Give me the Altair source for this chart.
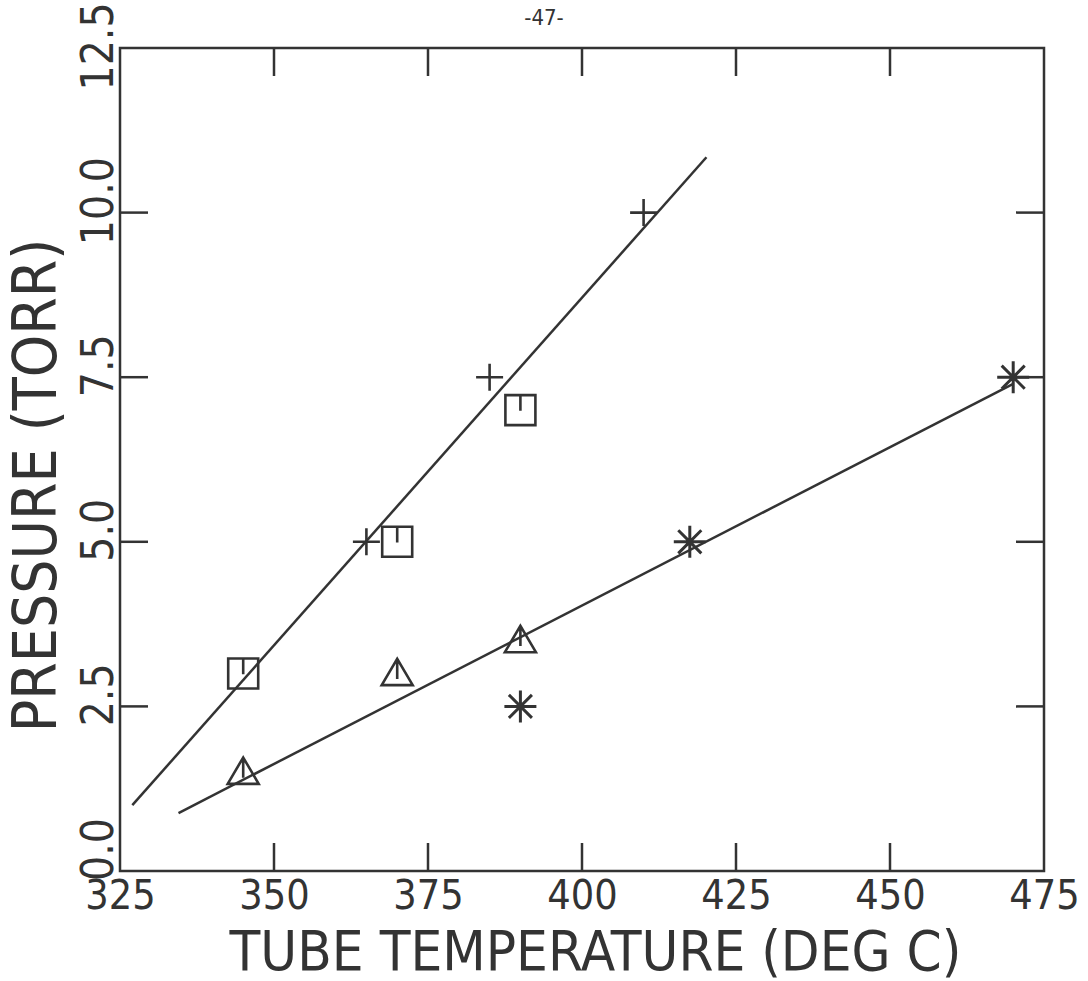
import altair as alt
import pandas as pd

# Measured points, one list pair per marker symbol
plus_temp = [365, 385, 410]
plus_pres = [5.0, 7.5, 10.0]
square_temp = [345, 370, 390]
square_pres = [3.0, 5.0, 7.0]
triangle_temp = [345, 370, 390]
triangle_pres = [1.5, 3.0, 3.5]
star_temp = [390, 417.5, 470]
star_pres = [2.5, 5.0, 7.5]

# Straight-line fits (end points)
steep_fit_temp = [327.0, 420.2]
steep_fit_pres = [1.0, 10.84]
shallow_fit_temp = [334.5, 470.0]
shallow_fit_pres = [0.88, 7.4]

# Axis tick values
x_ticks = [325, 350, 375, 400, 425, 450, 475]
y_ticks = [0.0, 2.5, 5.0, 7.5, 10.0, 12.5]

W, H = 924, 823
TICK = 28
INK = "#333333"
FONT = "Liberation Sans Narrow, DejaVu Sans Condensed, Liberation Sans, sans-serif"

x_scale = alt.Scale(domain=[325, 475], nice=False, zero=False)
y_scale = alt.Scale(domain=[0, 12.5], nice=False, zero=True)

x_axis = alt.Axis(
    values=x_ticks, format="d", domain=False, ticks=False, grid=False,
    labelFont=FONT, labelFontSize=41, labelColor=INK, labelPadding=5,
    labelFlush=False, labelOverlap=False, labelBaseline="top",
    title="TUBE TEMPERATURE (DEG C)", titleFont=FONT, titleFontSize=56,
    titleFontWeight="normal", titleColor=INK, titleX=475, titleY=98,
    titleAlign="center", titleBaseline="alphabetic",
)
y_axis = alt.Axis(
    values=y_ticks, format=".1f", domain=False, ticks=False, grid=False,
    labelFont=FONT, labelFontSize=44, labelColor=INK, labelPadding=8,
    labelFlush=False, labelOverlap=False, labelAngle=270,
    labelAlign="center", labelBaseline="alphabetic",
    labelOffset={"condition": [
        {"test": "datum.value == 0", "value": -22},
        {"test": "datum.value == 12.5", "value": -2},
    ], "value": -12},
    title="PRESSURE (TORR)", titleFont=FONT, titleFontSize=60,
    titleFontWeight="normal", titleColor=INK, titleAngle=270,
    titleX=-65, titleY=437, titleAlign="center", titleBaseline="alphabetic",
)

X = alt.X("temp:Q", scale=x_scale, axis=x_axis)
Y = alt.Y("pres:Q", scale=y_scale, axis=y_axis)

fits = pd.DataFrame({
    "temp": steep_fit_temp + shallow_fit_temp,
    "pres": steep_fit_pres + shallow_fit_pres,
    "fit": ["steep"] * 2 + ["shallow"] * 2,
})
fit_lines = alt.Chart(fits).mark_line(color=INK, strokeWidth=2.5).encode(
    x=X, y=Y, detail="fit:N"
)

PLUS = "M-1,0L1,0M0,-1L0,1"
SQUARE = "M-1,-1L1,-1L1,1L-1,1Z M0,-1L0,0.05"
TRIANGLE = "M-1,0.75L0,-0.95L1,0.75Z M0,-0.95L0,0.35"
STAR = "M-1,0L1,0M0,-1L0,1M-0.72,-0.72L0.72,0.72M-0.72,0.72L0.72,-0.72"


def markers(temps, pres, shape, size, width):
    df = pd.DataFrame({"temp": temps, "pres": pres})
    return alt.Chart(df).mark_point(
        shape=shape, size=size, filled=False, color=INK,
        strokeWidth=width, opacity=1,
    ).encode(x=X, y=Y)


plus_pts = markers(plus_temp, plus_pres, PLUS, 729, 2.6)
square_pts = markers(square_temp, square_pres, SQUARE, 900, 2.6)
triangle_pts = markers(triangle_temp, triangle_pres, TRIANGLE, 961, 2.6)
star_pts = markers(star_temp, star_pres, STAR, 1024, 3.0)

# Inward tick marks on all four sides of the frame
xt = pd.DataFrame({"temp": x_ticks[1:-1]})
yt = pd.DataFrame({"pres": y_ticks[1:-1]})
tick_style = dict(color=INK, strokeWidth=2.5)
bottom_ticks = alt.Chart(xt).mark_rule(**tick_style).encode(
    x=alt.X("temp:Q", scale=x_scale), y=alt.value(H - TICK), y2=alt.value(H))
top_ticks = alt.Chart(xt).mark_rule(**tick_style).encode(
    x=alt.X("temp:Q", scale=x_scale), y=alt.value(0), y2=alt.value(TICK))
left_ticks = alt.Chart(yt).mark_rule(**tick_style).encode(
    y=alt.Y("pres:Q", scale=y_scale), x=alt.value(0), x2=alt.value(TICK))
right_ticks = alt.Chart(yt).mark_rule(**tick_style).encode(
    y=alt.Y("pres:Q", scale=y_scale), x=alt.value(W - TICK), x2=alt.value(W))

page_no = alt.Chart(pd.DataFrame({"t": ["-47-"]})).mark_text(
    font=FONT, fontSize=22, color=INK, baseline="alphabetic", align="center"
).encode(text="t:N", x=alt.value(424), y=alt.value(-23))

chart = alt.layer(
    fit_lines, plus_pts, square_pts, triangle_pts, star_pts,
    bottom_ticks, top_ticks, left_ticks, right_ticks, page_no,
).properties(
    width=W, height=H,
    padding={"left": 120, "top": 48, "right": 44, "bottom": 110},
    autosize=alt.AutoSizeParams(type="none"),
    background="white",
).configure_view(stroke=INK, strokeWidth=2.5)

chart.save("out.html", embed_options={"renderer": "svg", "actions": False})
